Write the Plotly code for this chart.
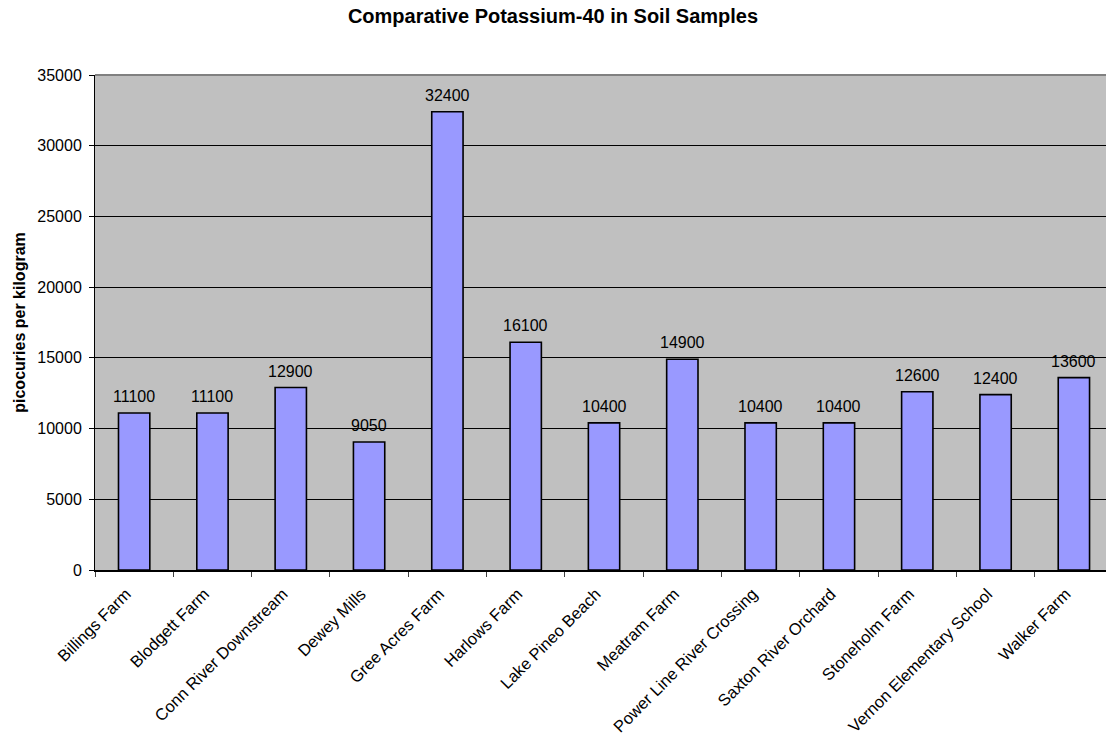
import plotly.graph_objects as go

# Soil sample sites and measured potassium-40 activity (pCi/kg)
sites = [
    "Billings Farm", "Blodgett Farm", "Conn River Downstream", "Dewey Mills",
    "Gree Acres Farm", "Harlows Farm", "Lake Pineo Beach", "Meatram Farm",
    "Power Line River Crossing", "Saxton River Orchard", "Stoneholm Farm",
    "Vernon Elementary School", "Walker Farm",
]
k40_values = [11100, 11100, 12900, 9050, 32400, 16100, 10400, 14900,
              10400, 10400, 12600, 12400, 13600]
y_ticks = [0, 5000, 10000, 15000, 20000, 25000, 30000, 35000]

FONT = "Liberation Sans, Arial, sans-serif"

fig = go.Figure()
fig.add_trace(go.Bar(
    x=sites,
    y=k40_values,
    width=0.4,
    marker=dict(color="#9999FF", line=dict(color="#000000", width=1.6)),
    hoverinfo="x+y",
    showlegend=False,
))

# value labels above each bar
for s, v in zip(sites, k40_values):
    fig.add_annotation(
        x=s, y=v, text=str(v), showarrow=False,
        yanchor="bottom", yshift=6,
        font=dict(family=FONT, size=16, color="#000000"),
    )

# plot-area top border
fig.add_shape(type="line", xref="paper", yref="paper",
              x0=0, x1=1, y0=1, y1=1,
              line=dict(color="#808080", width=2))

fig.update_layout(
    width=1106, height=742,
    margin=dict(l=95, r=0, t=75, b=172),
    paper_bgcolor="#FFFFFF",
    plot_bgcolor="#C0C0C0",
    bargap=0.6,
    title=dict(
        text="<b>Comparative Potassium-40 in Soil Samples</b>",
        x=0.5, xref="container", xanchor="center",
        y=1 - 16 / 742, yref="container", yanchor="middle",
        font=dict(family=FONT, size=20, color="#000000"),
    ),
    font=dict(family=FONT, size=16, color="#000000"),
)

fig.update_xaxes(
    type="category",
    range=[-0.5, 12.41],
    tickangle=-45,
    ticks="outside", tickson="boundaries", ticklen=5,
    tickcolor="#404040", tickwidth=1,
    ticklabelstandoff=6, ticklabelshift=-8,
    showline=True, linecolor="#000000", linewidth=2,
    showgrid=False,
    tickfont=dict(family=FONT, size=16.5, color="#000000"),
)
fig.update_yaxes(
    range=[0, 35000],
    tickvals=y_ticks,
    tickformat="d",
    ticks="outside", ticklen=5, tickcolor="#000000", tickwidth=1,
    ticklabelstandoff=4,
    showline=True, linecolor="#000000", linewidth=1,
    showgrid=True, gridcolor="#000000", gridwidth=1,
    zeroline=False,
    tickfont=dict(family=FONT, size=16, color="#000000"),
    title=dict(
        text="<b>picocuries per kilogram</b>",
        standoff=7,
        font=dict(family=FONT, size=16, color="#000000"),
    ),
)

fig.write_html("out.html")
